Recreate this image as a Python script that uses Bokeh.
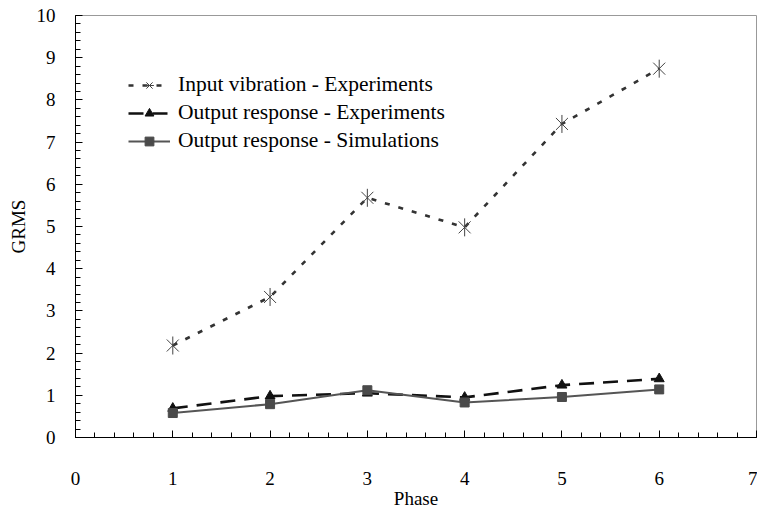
import math
from bokeh.plotting import figure
from bokeh.models import ColumnDataSource, SingleIntervalTicker, Legend, LegendItem, Range1d
from bokeh.embed import file_html
from bokeh.resources import INLINE

# ---- data ----
phase = [1, 2, 3, 4, 5, 6]
input_exp = [2.18, 3.33, 5.68, 4.98, 7.43, 8.74]
output_exp = [0.69, 0.98, 1.05, 0.95, 1.24, 1.39]
output_sim = [0.58, 0.79, 1.12, 0.83, 0.96, 1.14]
labels = ["Input vibration - Experiments",
          "Output response - Experiments",
          "Output response - Simulations"]

FONT = "Liberation Serif"

p = figure(width=757, height=514, output_backend="svg", toolbar_location=None,
           x_range=Range1d(0, 7), y_range=Range1d(0, 10),
           min_border_left=75, min_border_right=1, min_border_top=15, min_border_bottom=77)
p.background_fill_color = "white"
p.border_fill_color = "white"
p.outline_line_color = "#999999"
p.outline_line_width = 1
p.xgrid.visible = False
p.ygrid.visible = False

p.xaxis.ticker = SingleIntervalTicker(interval=1, num_minor_ticks=5)
p.yaxis.ticker = SingleIntervalTicker(interval=1, num_minor_ticks=5)

for ax in (p.xaxis[0], p.yaxis[0]):
    ax.axis_line_color = "black"
    ax.axis_line_width = 1
    ax.major_tick_in = 7
    ax.major_tick_out = 0
    ax.minor_tick_in = 5
    ax.minor_tick_out = 0
    ax.major_tick_line_color = "black"
    ax.minor_tick_line_color = "black"
    ax.major_label_text_font = FONT
    ax.major_label_text_font_size = "19px"
    ax.major_label_text_color = "black"
    ax.axis_label_text_font = FONT
    ax.axis_label_text_font_size = "19px"
    ax.axis_label_text_font_style = "normal"
    ax.axis_label_text_color = "black"

p.xaxis.axis_label = "Phase"
p.yaxis.axis_label = "GRMS"
p.xaxis.major_label_standoff = 34
p.xaxis.axis_label_standoff = 0
p.yaxis.major_label_standoff = 20
p.yaxis.axis_label_standoff = 5

src = ColumnDataSource(dict(x=phase, inp=input_exp, oexp=output_exp, osim=output_sim))

# Input vibration
l1 = p.line("x", "inp", source=src, line_color="#333333", line_width=2.6, line_dash="5 9")
m1a = p.scatter("x", "inp", source=src, marker="x", size=17, line_color="#444444", line_width=1)
m1b = p.scatter("x", "inp", source=src, marker="dash", angle=math.pi / 2, size=18,
                line_color="#444444", line_width=1)

# Output response - experiments
l2 = p.line("x", "oexp", source=src, line_color="#111111", line_width=2.6, line_dash="15 9")
m2 = p.scatter("x", "oexp", source=src, marker="triangle", size=10,
               fill_color="#111111", line_color="#111111")

# Output response - simulations
l3 = p.line("x", "osim", source=src, line_color="#555555", line_width=2)
m3 = p.scatter("x", "osim", source=src, marker="square", size=9,
               fill_color="#4a4a4a", line_color="#4a4a4a")

legend = Legend(items=[
    LegendItem(label=labels[0], renderers=[l1, m1a, m1b]),
    LegendItem(label=labels[1], renderers=[l2, m2]),
    LegendItem(label=labels[2], renderers=[l3, m3]),
], location=(53, 284))
legend.label_text_font = FONT
legend.label_text_font_size = "21.5px"
legend.label_text_color = "black"
legend.glyph_width = 42
legend.glyph_height = 22
legend.label_height = 22
legend.label_standoff = 8
legend.spacing = 3
legend.padding = 0
legend.margin = 0
legend.border_line_color = None
legend.background_fill_alpha = 0
p.add_layout(legend, "center")

open("out.html", "w").write(file_html(p, INLINE))
